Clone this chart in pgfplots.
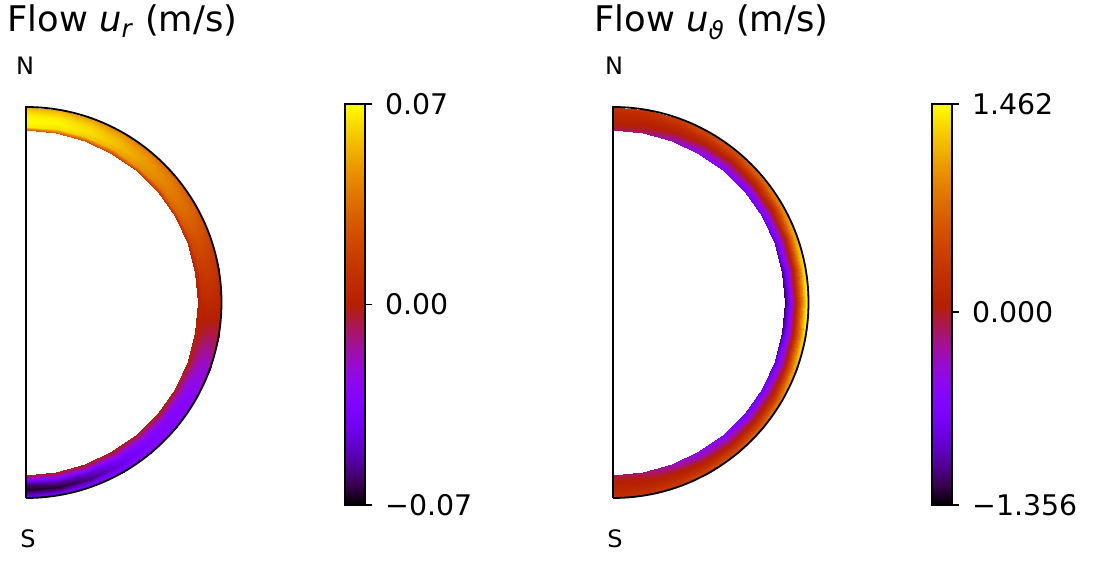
\documentclass[border=0pt]{standalone}
\usepackage{fontspec}
\setmainfont{DejaVu Sans}
\usepackage{pgfplots}
\pgfplotsset{compat=1.18}
\usepackage{pgfplotstable}
\usetikzlibrary{calc}

\pgfplotsset{
  colormap={gnu}{rgb=(0,0,0) rgb=(0.2236,0.0001,0.3090) rgb=(0.3162,0.0010,0.5878)
    rgb=(0.3873,0.0034,0.8090) rgb=(0.4472,0.0080,0.9511) rgb=(0.5000,0.0156,1.0000)
    rgb=(0.5477,0.0270,0.9511) rgb=(0.5916,0.0429,0.8090) rgb=(0.6325,0.0640,0.5878)
    rgb=(0.6708,0.0911,0.3090) rgb=(0.7071,0.1250,0) rgb=(0.7416,0.1664,0)
    rgb=(0.7746,0.2160,0) rgb=(0.8062,0.2746,0) rgb=(0.8367,0.3430,0)
    rgb=(0.8660,0.4219,0) rgb=(0.8944,0.5120,0) rgb=(0.9220,0.6141,0)
    rgb=(0.9487,0.7290,0) rgb=(0.9747,0.8574,0) rgb=(1,1,0)},
}

% u_r : t = colatitude (deg), r = radius (outer = 1), v = value (m/s)
\pgfplotstableread{
t r v
0 0.880 0.028
0 0.900 0.0658
0 0.930 0.07
0 0.960 0.0672
0 0.985 0.0602
0 1.000 0.0532
10 0.880 0.028
10 0.900 0.0644
10 0.930 0.0686
10 0.960 0.0658
10 0.985 0.0588
10 1.000 0.0518
20 0.880 0.0252
20 0.900 0.0588
20 0.930 0.0644
20 0.960 0.0616
20 0.985 0.0546
20 1.000 0.0476
30 0.880 0.021
30 0.900 0.0518
30 0.930 0.0574
30 0.960 0.0546
30 0.985 0.049
30 1.000 0.042
40 0.880 0.0168
40 0.900 0.0448
40 0.930 0.049
40 0.960 0.0476
40 0.985 0.042
40 1.000 0.0364
50 0.880 0.014
50 0.900 0.0378
50 0.930 0.042
50 0.960 0.0406
50 0.985 0.0364
50 1.000 0.0308
60 0.880 0.0112
60 0.900 0.0308
60 0.930 0.035
60 0.960 0.0336
60 0.985 0.0294
60 1.000 0.0252
70 0.880 0.007
70 0.900 0.0224
70 0.930 0.0252
70 0.960 0.0238
70 0.985 0.021
70 1.000 0.0168
80 0.880 0.0028
80 0.900 0.014
80 0.930 0.0154
80 0.960 0.014
80 0.985 0.0112
80 1.000 0.0084
90 0.880 0
90 0.900 0.0056
90 0.930 0.007
90 0.960 0.0056
90 0.985 0.0042
90 1.000 0.0028
100 0.880 0
100 0.900 -0.0014
100 0.930 -0.0056
100 0.960 -0.007
100 0.985 -0.0056
100 1.000 -0.0028
110 0.880 0
110 0.900 -0.007
110 0.930 -0.0182
110 0.960 -0.0224
110 0.985 -0.0196
110 1.000 -0.0126
120 0.880 0
120 0.900 -0.0112
120 0.930 -0.0266
120 0.960 -0.0308
120 0.985 -0.028
120 1.000 -0.0224
130 0.880 0
130 0.900 -0.014
130 0.930 -0.0308
130 0.960 -0.035
130 0.985 -0.0322
130 1.000 -0.0266
140 0.880 0
140 0.900 -0.0154
140 0.930 -0.0336
140 0.960 -0.0378
140 0.985 -0.0336
140 1.000 -0.028
150 0.880 0
150 0.900 -0.0168
150 0.930 -0.0392
150 0.960 -0.0462
150 0.985 -0.0364
150 1.000 -0.0294
160 0.880 0
160 0.900 -0.0182
160 0.930 -0.049
160 0.960 -0.0588
160 0.985 -0.042
160 1.000 -0.0322
170 0.880 0
170 0.900 -0.0196
170 0.930 -0.056
170 0.960 -0.0658
170 0.985 -0.049
170 1.000 -0.0336
180 0.880 0
180 0.900 -0.021
180 0.930 -0.0588
180 0.960 -0.0672
180 0.985 -0.0504
180 1.000 -0.035
}\urtab

% u_theta
\pgfplotstableread{
t r v
0 0.880 -0.1161
0 0.900 -0.0034
0 0.930 0.0812
0 0.960 0.1375
0 0.985 0.2221
0 1.000 0.2784
10 0.880 -0.1724
10 0.900 -0.0315
10 0.930 0.0812
10 0.960 0.1657
10 0.985 0.2503
10 1.000 0.3348
20 0.880 -0.3415
20 0.900 -0.1724
20 0.930 0.053
20 0.960 0.1939
20 0.985 0.3348
20 1.000 0.4193
30 0.880 -0.5106
30 0.900 -0.3415
30 0.930 -0.0034
30 0.960 0.2221
30 0.985 0.4193
30 1.000 0.5321
40 0.880 -0.5951
40 0.900 -0.4542
40 0.930 -0.0597
40 0.960 0.2503
40 0.985 0.5039
40 1.000 0.6166
50 0.880 -0.736
50 0.900 -0.5388
50 0.930 -0.0879
50 0.960 0.3066
50 0.985 0.673
50 1.000 0.7857
60 0.880 -0.8488
60 0.900 -0.5951
60 0.930 -0.0879
60 0.960 0.3912
60 0.985 0.842
60 1.000 0.9548
70 0.880 -0.9615
70 0.900 -0.6233
70 0.930 -0.0597
70 0.960 0.5321
70 0.985 1.0675
70 1.000 1.1802
80 0.880 -1.1306
80 0.900 -0.6797
80 0.930 -0.0315
80 0.960 0.673
80 0.985 1.2929
80 1.000 1.4056
90 0.880 -1.2151
90 0.900 -0.736
90 0.930 -0.0034
90 0.960 0.7575
90 0.985 1.3775
90 1.000 1.462
100 0.880 -1.1306
100 0.900 -0.6797
100 0.930 -0.0315
100 0.960 0.673
100 0.985 1.2929
100 1.000 1.4056
110 0.880 -0.9615
110 0.900 -0.6233
110 0.930 -0.0597
110 0.960 0.5321
110 0.985 1.0675
110 1.000 1.1802
120 0.880 -0.8488
120 0.900 -0.5951
120 0.930 -0.0879
120 0.960 0.3912
120 0.985 0.842
120 1.000 0.9548
130 0.880 -0.736
130 0.900 -0.5388
130 0.930 -0.0879
130 0.960 0.3066
130 0.985 0.673
130 1.000 0.7857
140 0.880 -0.5951
140 0.900 -0.4542
140 0.930 -0.0597
140 0.960 0.2503
140 0.985 0.5039
140 1.000 0.6166
150 0.880 -0.5106
150 0.900 -0.3415
150 0.930 -0.0034
150 0.960 0.2221
150 0.985 0.4193
150 1.000 0.5321
160 0.880 -0.3415
160 0.900 -0.1724
160 0.930 0.053
160 0.960 0.1939
160 0.985 0.3348
160 1.000 0.4193
170 0.880 -0.1724
170 0.900 -0.0315
170 0.930 0.0812
170 0.960 0.1657
170 0.985 0.2503
170 1.000 0.3348
180 0.880 -0.1161
180 0.900 -0.0034
180 0.930 0.0812
180 0.960 0.1375
180 0.985 0.2221
180 1.000 0.2784
}\uttab

\pgfplotsset{
  halfdisk/.style={
    view={0}{90}, scale only axis, width=97.75pt, height=195.5pt,
    xmin=0, xmax=1, ymin=-1, ymax=1, hide axis, clip=false,
    colormap name=gnu, anchor=south west,
    colorbar,
    colorbar style={
      at={(parent axis.south west)}, anchor=south west,
      xshift=151pt, yshift=-3.5pt,
      scale only axis, width=10pt, height=200.5pt,
      scaled y ticks=false,
      axis line style={line width=0.78pt, black},
      tick style={line width=0.78pt, black},
      major tick length=3.5pt, tick align=outside,
      ytick pos=right, yticklabel pos=right,
      yticklabel style={font=\fontsize{14.2}{16}\selectfont, anchor=west, inner sep=0pt, xshift=6.5pt},
    },
  },
}

\begin{document}
\begin{tikzpicture}
\path[use as bounding box] (0,0) rectangle (549pt,280.5pt);

\begin{axis}[halfdisk, at={(13pt,31.5pt)},
  point meta min=-0.07, point meta max=0.07,
  colorbar style={ytick={-0.07,0,0.07}, yticklabels={−0.07,0.00,0.07}}]
\addplot3[surf, shader=interp, mesh/cols=6, mesh/rows=19]
  table[x expr={\thisrow{r}*sin(\thisrow{t})}, y expr={\thisrow{r}*cos(\thisrow{t})}, z=v] {\urtab};
\end{axis}

\begin{axis}[halfdisk, at={(306.5pt,31.5pt)},
  point meta min=-1.356, point meta max=1.462,
  colorbar style={ytick={-1.356,0,1.462}, yticklabels={−1.356,0.000,1.462}}]
\addplot3[surf, shader=interp, mesh/cols=6, mesh/rows=19]
  table[x expr={\thisrow{r}*sin(\thisrow{t})}, y expr={\thisrow{r}*cos(\thisrow{t})}, z=v] {\uttab};
\end{axis}

% outlines
\draw[line width=0.9pt] (13pt,31.5pt) -- (13pt,227pt) arc[start angle=90, end angle=-90, radius=97.75pt];
\draw[line width=0.9pt] (306.5pt,31.5pt) -- (306.5pt,227pt) arc[start angle=90, end angle=-90, radius=97.75pt];

% titles
\node[anchor=base west, inner sep=0pt, font=\fontsize{17.65}{20}\selectfont] at (3.5pt,264.5pt) {Flow \textit{u}\textsubscript{\textit{r}} (m/s)};
\node[anchor=base west, inner sep=0pt, font=\fontsize{17.65}{20}\selectfont] at (297pt,264.5pt) {Flow \textit{u}\textsubscript{\textit{ϑ}} (m/s)};

% N / S
\node[inner sep=0pt, font=\fontsize{12}{14}\selectfont] at (12.5pt,247.5pt) {N};
\node[inner sep=0pt, font=\fontsize{12}{14}\selectfont] at (14pt,11pt) {S};
\node[inner sep=0pt, font=\fontsize{12}{14}\selectfont] at (307pt,247.5pt) {N};
\node[inner sep=0pt, font=\fontsize{12}{14}\selectfont] at (307.5pt,11pt) {S};
\end{tikzpicture}
\end{document}
